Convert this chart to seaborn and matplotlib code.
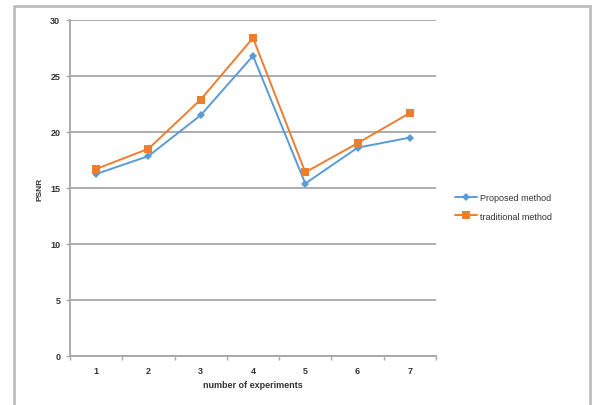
import matplotlib
matplotlib.use("Agg")
import matplotlib.pyplot as plt
from matplotlib.patches import Rectangle
from matplotlib.lines import Line2D
import seaborn as sns
import pandas as pd

experiments = [1, 2, 3, 4, 5, 6, 7]
proposed = [16.25, 17.85, 21.5, 26.8, 15.4, 18.6, 19.5]
traditional = [16.7, 18.5, 22.9, 28.4, 16.4, 19.0, 21.7]
series_names = ["Proposed method", "traditional method"]
y_ticks = [0, 5, 10, 15, 20, 25, 30]

df = pd.DataFrame({
    "experiment": experiments * 2,
    "PSNR": proposed + traditional,
    "method": [series_names[0]] * len(experiments) + [series_names[1]] * len(experiments),
})

sns.set_theme(style="white")
plt.rcParams["font.family"] = ["Liberation Sans", "DejaVu Sans"]

W, H = 600, 406
fig = plt.figure(figsize=(W / 100, H / 100), dpi=100)
fig.patch.set_facecolor("white")

# outer chart frame
fig.patches.append(Rectangle((14 / W, -0.05), (590 - 14) / W, (H - 7) / H + 0.05,
                             transform=fig.transFigure, fill=False,
                             edgecolor="#BDBDBD", linewidth=2.0, zorder=0))

ax = fig.add_axes([70 / W, (H - 357) / H, (436 - 70) / W, (357 - 21) / H])

blue = "#5B9BD5"
orange = "#ED7D31"
palette = {series_names[0]: blue, series_names[1]: orange}
markers = {series_names[0]: "D", series_names[1]: "s"}

sns.lineplot(data=df, x="experiment", y="PSNR", hue="method", style="method",
             palette=palette, markers=markers, dashes=False, markersize=5.5,
             markeredgewidth=0, linewidth=1.4, ax=ax, legend=False)
# smaller diamonds for the blue series
for ln in ax.lines:
    if ln.get_marker() == "D":
        ln.set_markersize(4)

ax.set_xlim(0.5, 7.5)
ax.set_ylim(0, 30)
ax.set_yticks(y_ticks)
ax.set_xticks(experiments)
ax.set_xticks([x + 0.5 for x in range(0, 8)], minor=True)
ax.tick_params(axis="x", which="major", length=0, pad=7, labelsize=6.5, colors="#333333")
ax.tick_params(axis="x", which="minor", length=3, width=1, color="#A6A6A6", bottom=True)
ax.tick_params(axis="y", which="major", length=3, width=1, color="#A6A6A6", left=True,
               pad=4, labelsize=6.5, colors="#333333")
for lbl in ax.get_xticklabels() + ax.get_yticklabels():
    lbl.set_fontweight("bold")

ax.yaxis.grid(True, color="#A6A6A6", linewidth=1.3)
ax.set_axisbelow(True)
for side in ["top", "right"]:
    ax.spines[side].set_visible(False)
for side in ["left", "bottom"]:
    ax.spines[side].set_color("#A6A6A6")
    ax.spines[side].set_linewidth(1.3)

ax.set_xlabel("number of experiments", fontsize=6.5, fontweight="bold", color="#333333", labelpad=4)
ax.set_ylabel("PSNR", fontsize=6, fontweight="bold", color="#333333", labelpad=5)

handles = [
    Line2D([], [], color=blue, marker="D", markersize=4, markeredgewidth=0, linewidth=1.4),
    Line2D([], [], color=orange, marker="s", markersize=5.5, markeredgewidth=0, linewidth=1.4),
]
fig.legend(handles, series_names, loc="center left",
           bbox_to_anchor=(447 / W, (H - 208) / H), frameon=False,
           fontsize=6.5, handlelength=2.4, handletextpad=0.4, labelspacing=1.0,
           labelcolor="#333333")

fig.savefig("out.png", dpi=100, facecolor="white")
